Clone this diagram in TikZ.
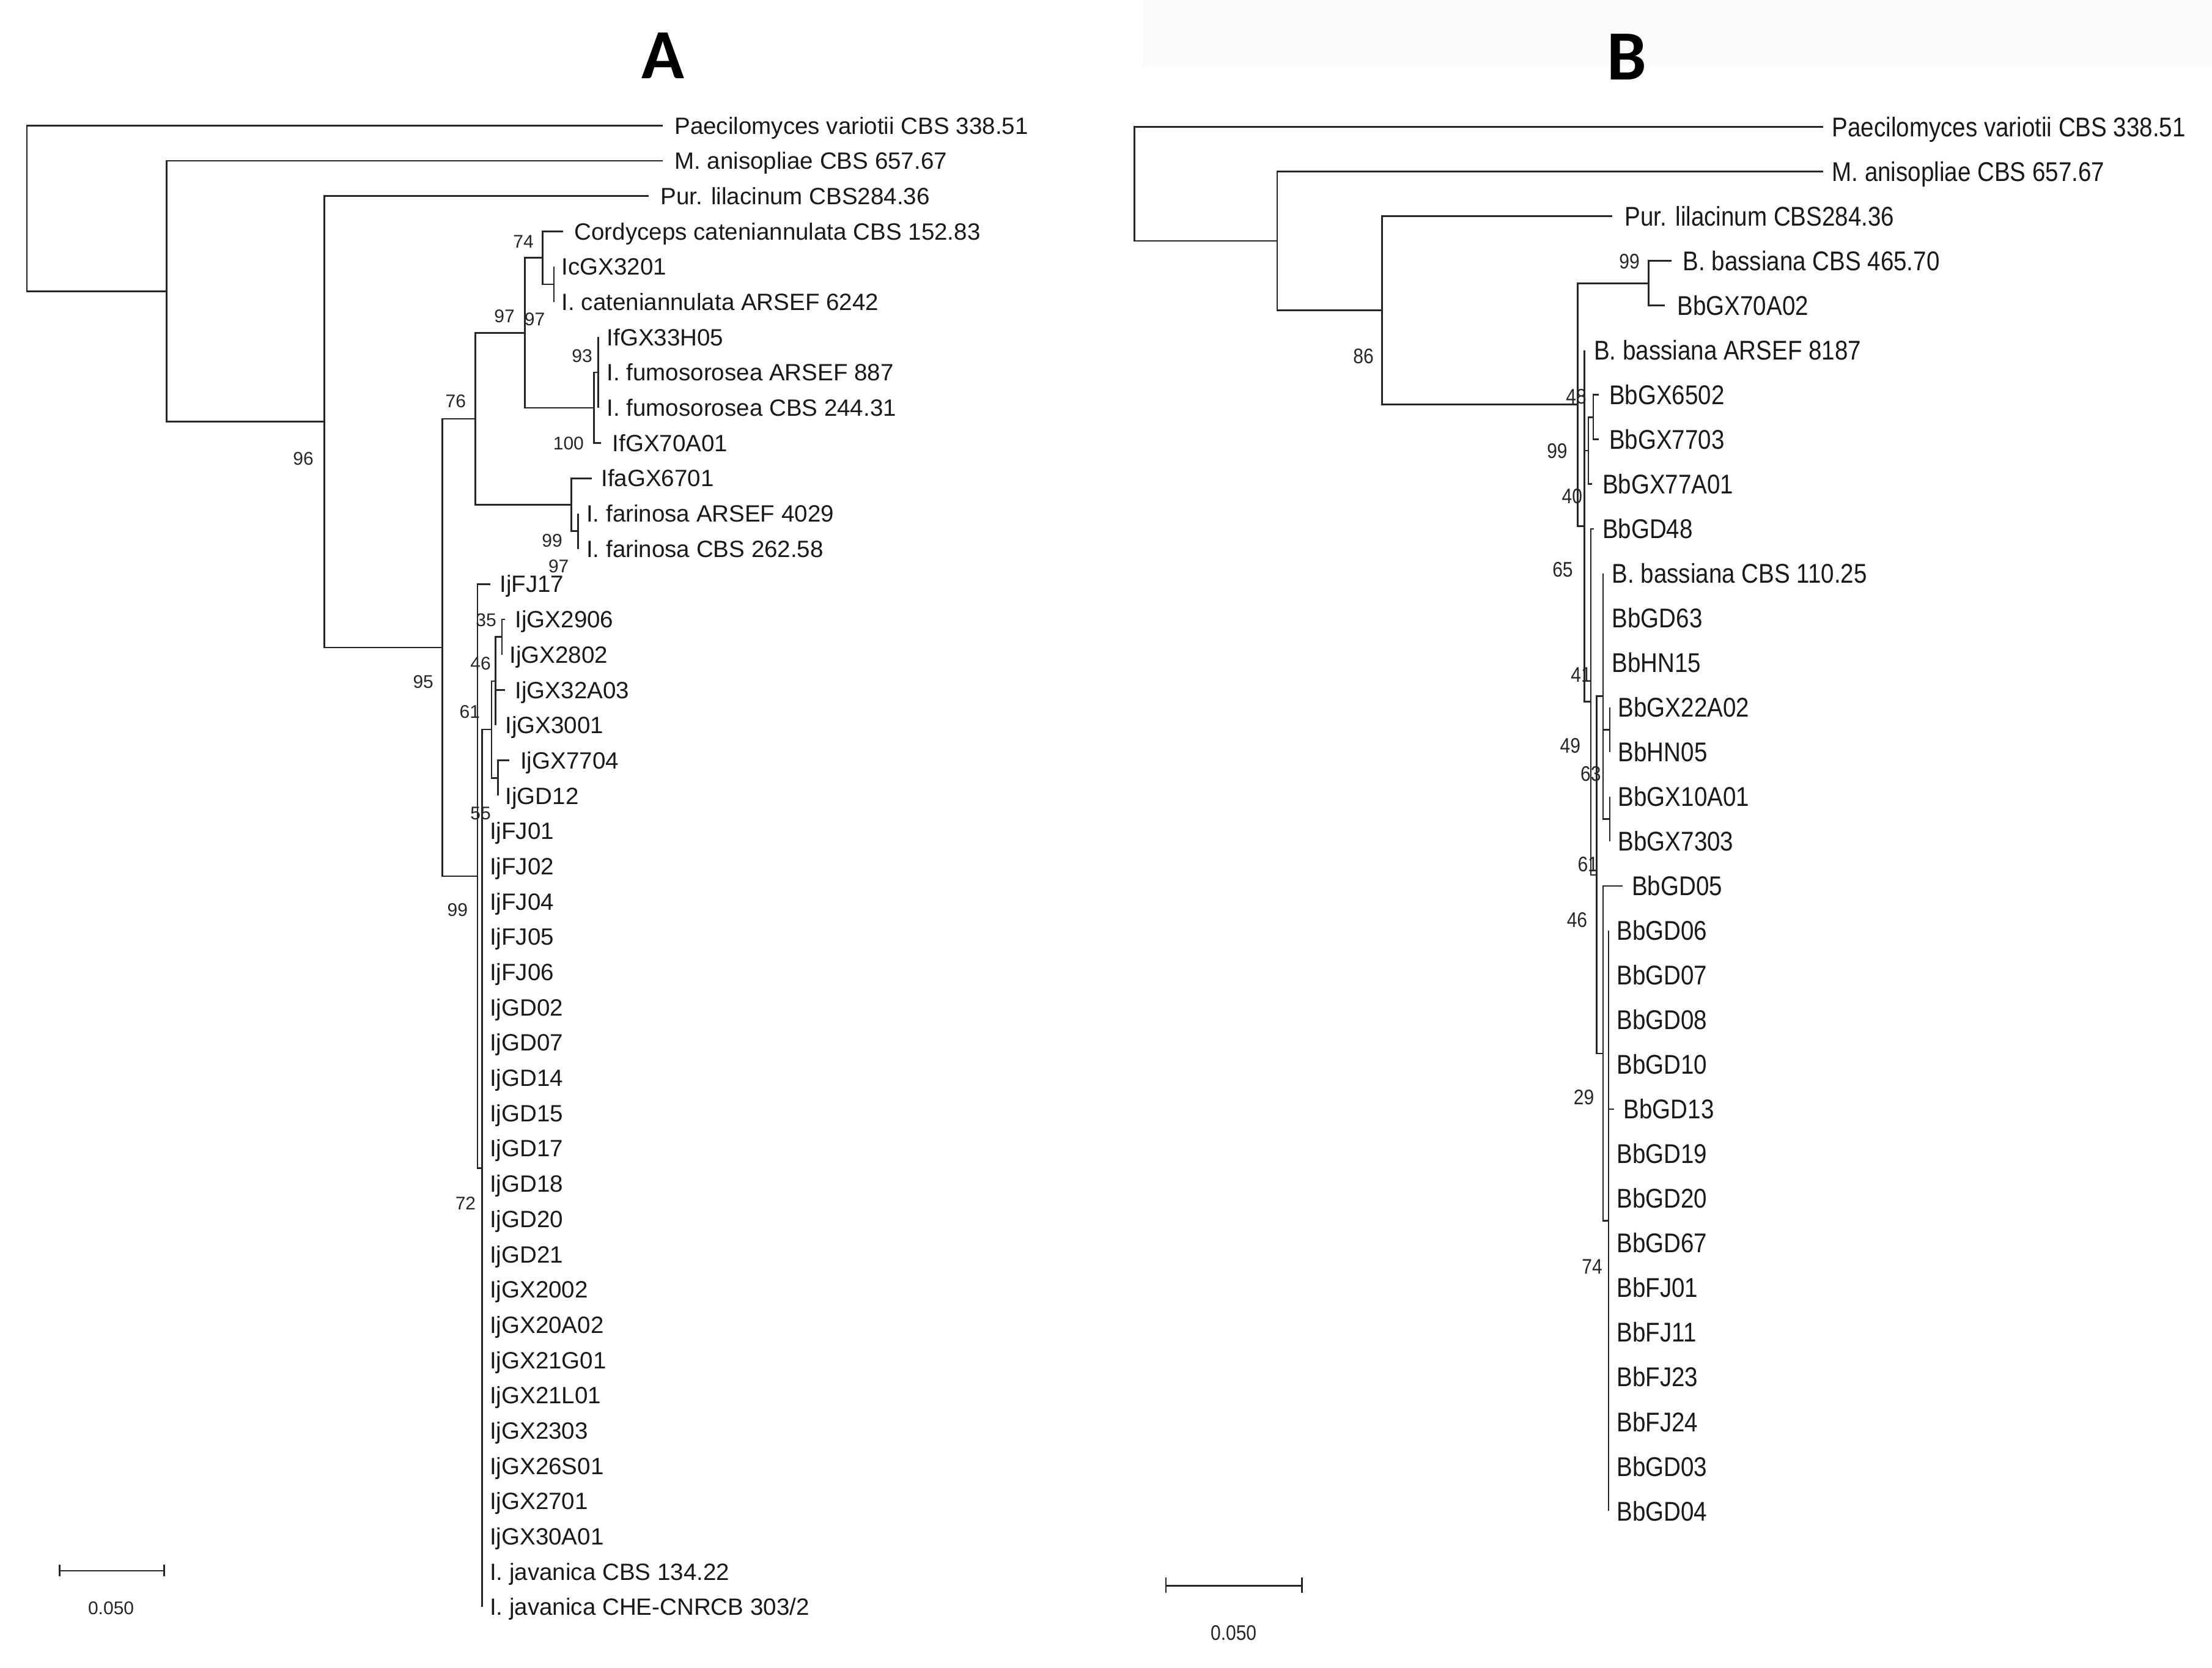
\documentclass[tikz,border=0pt]{standalone}
\usepackage{fontspec}
\setmainfont{Liberation Sans}
\newfontfamily\titlefont{Carlito}
\usepackage{graphicx}
\newcommand\bs[1]{\scalebox{1}[1.15]{#1}}
\tikzset{
  br/.style={line width=1.15pt, draw=black!85},
  leafA/.style={anchor=west, inner sep=0pt, text height=11.9pt, text depth=0pt, font=\fontsize{16.7}{18}\selectfont, text=black!90},
  leafB/.style={leafA, text height=13.7pt},
  bootA/.style={inner sep=0pt, text height=9.3pt, text depth=0pt, font=\fontsize{13}{14}\selectfont, text=black!85},
  bootB/.style={bootA, text height=10.7pt},
  ttl/.style={inner sep=0pt, text height=33pt, text depth=0pt, font=\titlefont\bfseries\fontsize{50}{52}\selectfont}
}
\begin{document}
\begin{tikzpicture}[x=1pt,y=1pt]
\useasboundingbox (0,0) rectangle (1568,-1182);
\fill[black!2] (810,0) rectangle (1568,-47);
\node[ttl] (tA) at (470,-39) {A};
\node[ttl] (tB) at (1153,-40) {B};

% ---------------- Tree A: internal nodes
\coordinate (aR) at (19,-147.7);
\coordinate (a118) at (118,-206.5);
\coordinate (a230) at (230,-298.95);
\coordinate (a95) at (313.6,-458.9);
\coordinate (a76) at (337,-296.8);
\coordinate (a97) at (372,-235.9);
\coordinate (a74) at (384.6,-182.75);
\coordinate (aic) at (392.7,-201.5);
\coordinate (a100) at (421,-289);
\coordinate (a93) at (424,-264);
\coordinate (afa) at (405,-357.75);
\coordinate (afs) at (409.8,-376.5);
\coordinate (a99) at (338.4,-621);
\coordinate (a72) at (341.7,-828.05);
\coordinate (a61) at (348.4,-517.1);
\coordinate (a46) at (351.3,-482.75);
\coordinate (a35) at (355.8,-451.5);
\coordinate (a55) at (352.9,-551.5);
\foreach \p/\c in {aR/a118, a118/a230, a230/a95, a95/a76, a95/a99, a76/a97, a76/afa,
  a97/a74, a97/a100, a74/aic, a100/a93, afa/afs, a99/a72, a72/a61, a61/a46, a61/a55, a46/a35}
  {\draw[br] (\p) |- (\c);}

% Tree A: leaves
\foreach \i/\p/\tx/\lx/\t in {
 0/aR/470/478/Paecilomyces variotii CBS 338.51,
 1/a118/470/478/M. anisopliae CBS 657.67,
 2/a230/460/468/Pur. lilacinum CBS284.36,
 3/a74/399/407/Cordyceps cateniannulata CBS 152.83,
 4/aic/392.7/398/IcGX3201,
 5/aic/392.7/398/I. cateniannulata ARSEF 6242,
 6/a93/424/430/IfGX33H05,
 7/a93/424/430/I. fumosorosea ARSEF 887,
 8/a93/424/430/I. fumosorosea CBS 244.31,
 9/a100/426/434/IfGX70A01,
 10/afa/419.5/426/IfaGX6701,
 11/afs/409.8/415.5/I. farinosa ARSEF 4029,
 12/afs/409.8/415.5/I. farinosa CBS 262.58,
 13/a99/347.5/354/IjFJ17,
 14/a35/358/365/IjGX2906,
 15/a35/355.8/361/IjGX2802,
 16/a46/358/365/IjGX32A03,
 17/a46/351.3/358/IjGX3001,
 18/a55/361/368.7/IjGX7704,
 19/a55/352.9/358/IjGD12,
 20/a72/341.7/347/IjFJ01,
 21/a72/341.7/347/IjFJ02,
 22/a72/341.7/347/IjFJ04,
 23/a72/341.7/347/IjFJ05,
 24/a72/341.7/347/IjFJ06,
 25/a72/341.7/347/IjGD02,
 26/a72/341.7/347/IjGD07,
 27/a72/341.7/347/IjGD14,
 28/a72/341.7/347/IjGD15,
 29/a72/341.7/347/IjGD17,
 30/a72/341.7/347/IjGD18,
 31/a72/341.7/347/IjGD20,
 32/a72/341.7/347/IjGD21,
 33/a72/341.7/347/IjGX2002,
 34/a72/341.7/347/IjGX20A02,
 35/a72/341.7/347/IjGX21G01,
 36/a72/341.7/347/IjGX21L01,
 37/a72/341.7/347/IjGX2303,
 38/a72/341.7/347/IjGX26S01,
 39/a72/341.7/347/IjGX2701,
 40/a72/341.7/347/IjGX30A01,
 41/a72/341.7/347/I. javanica CBS 134.22}{
  \pgfmathsetmacro\yy{-(89+25*\i)}
  \coordinate (ta\i) at (\tx,\yy);
  \node[leafA] (la\i) at (\lx,\yy) {\t};
  \draw[br] (\p) |- (ta\i);
}
\coordinate (ta42) at (341.7,-1139);
\node[leafA] (la42) at (347,-1139) {I. javanica CHE-CNRCB 303/2};
\draw[br] (a72) |- (ta42);

% Tree A: bootstrap values
\foreach \n/\x/\y/\v in {1/371/171/74, 2/357.6/224/97, 3/379/226/97, 4/412.6/252/93,
  5/323/284/76, 6/215/324.8/96, 7/403/314/100, 8/391.4/383/99, 9/396/401/97,
  10/344.6/439.2/35, 11/340.7/470.2/46, 12/300/483.2/95, 13/333/504.2/61,
  14/340.7/576.4/55, 15/324.3/644.7/99, 16/330/852.7/72}
  {\node[bootA] (bsA\n) at (\x,-\y) {\v};}

% Tree A: scale bar
\coordinate (sA1) at (42.2,-1113.4);
\coordinate (sA2) at (116.3,-1113.4);
\draw[br] (sA1) -- (sA2);
\draw[br] ([yshift=4.4pt]sA1) -- ([yshift=-4pt]sA1);
\draw[br] ([yshift=4.4pt]sA2) -- ([yshift=-4pt]sA2);
\node[bootA] (sAl) at (78.7,-1139.8) {0.050};

% ---------------- Tree B: internal nodes
\coordinate (bR) at (804,-130.4);
\coordinate (b905) at (905.4,-170.8);
\coordinate (b980) at (979.8,-220.05);
\coordinate (b48) at (1118.3,-286.8);
\coordinate (b99b) at (1168.6,-200.75);
\coordinate (b40) at (1123.2,-372.8);
\coordinate (b99c) at (1126,-319.45);
\coordinate (bpr) at (1129.4,-295.7);
\coordinate (b65) at (1127.7,-497.45);
\coordinate (b61) at (1131.9,-620.1);
\coordinate (btop) at (1136.3,-493.5);
\coordinate (bp1) at (1141.1,-517.2);
\coordinate (bp2) at (1141.1,-580.5);
\coordinate (bbot) at (1136.3,-746.65);
\coordinate (b74) at (1140.2,-865.3);
\foreach \p/\c in {bR/b905, b905/b980, b980/b48, b48/b99b, b48/b40, b40/b99c, b40/b65,
  b99c/bpr, b65/b61, b61/btop, b61/bbot, btop/bp1, btop/bp2, bbot/b74}
  {\draw[br] (\p) |- (\c);}

% Tree B: leaves
\foreach \i/\p/\tx/\lx/\t in {
 0/bR/1292.2/1298.5/Paecilomyces variotii CBS 338.51,
 1/b905/1292.2/1298.5/M. anisopliae CBS 657.67,
 2/b980/1142.9/1151.6/Pur. lilacinum CBS284.36,
 3/b99b/1185/1192.8/B. bassiana CBS 465.70,
 4/b99b/1180/1188.9/BbGX70A02,
 5/b40/1123.2/1129.7/B. bassiana ARSEF 8187,
 6/bpr/1133.3/1140.5/BbGX6502,
 7/bpr/1133.3/1140.5/BbGX7703,
 8/b99c/1128.4/1135.7/BbGX77A01,
 9/b65/1130/1135.7/BbGD48,
 10/btop/1136.3/1142.5/B. bassiana CBS 110.25,
 11/btop/1136.3/1142.5/BbGD63,
 12/btop/1136.3/1142.5/BbHN15,
 13/bp1/1141.1/1146.9/BbGX22A02,
 14/bp1/1141.1/1146.9/BbHN05,
 15/bp2/1141.1/1146.9/BbGX10A01,
 16/bp2/1141.1/1146.9/BbGX7303,
 17/bbot/1150/1156.6/BbGD05,
 18/b74/1140.2/1145.9/BbGD06,
 19/b74/1140.2/1145.9/BbGD07,
 20/b74/1140.2/1145.9/BbGD08,
 21/b74/1140.2/1145.9/BbGD10,
 22/b74/1144/1150.8/BbGD13,
 23/b74/1140.2/1145.9/BbGD19,
 24/b74/1140.2/1145.9/BbGD20,
 25/b74/1140.2/1145.9/BbGD67,
 26/b74/1140.2/1145.9/BbFJ01,
 27/b74/1140.2/1145.9/BbFJ11,
 28/b74/1140.2/1145.9/BbFJ23,
 29/b74/1140.2/1145.9/BbFJ24,
 30/b74/1140.2/1145.9/BbGD03,
 31/b74/1140.2/1145.9/BbGD04}{
  \pgfmathsetmacro\yy{-(90+31.645*\i)}
  \coordinate (tb\i) at (\tx,\yy);
  \node[leafB] (lb\i) at (\lx,\yy) {\bs{\t}};
  \draw[br] (\p) |- (tb\i);
}

% Tree B: bootstrap values
\foreach \n/\x/\y/\v in {1/1155/185/99, 2/966.5/252.4/86, 3/1117.3/280.8/48, 4/1103.8/319.4/99,
  5/1114.4/351.4/40, 6/1107.7/403.6/65, 7/1120.8/477.9/41, 8/1113.1/528.2/49,
  9/1127.6/548.5/63, 10/1125.6/612.4/61, 11/1117.9/652/46, 12/1122.7/777.5/29,
  13/1128.6/897.4/74}
  {\node[bootB] (bsB\n) at (\x,-\y) {\bs{\v}};}

% Tree B: scale bar
\coordinate (sB1) at (826.5,-1123.9);
\coordinate (sB2) at (922.8,-1123.9);
\draw[br] (sB1) -- (sB2);
\draw[br] ([yshift=5.6pt]sB1) -- ([yshift=-5.2pt]sB1);
\draw[br] ([yshift=5.6pt]sB2) -- ([yshift=-5.2pt]sB2);
\node[bootB] (sBl) at (874.4,-1157.2) {\bs{0.050}};
\end{tikzpicture}
\end{document}
